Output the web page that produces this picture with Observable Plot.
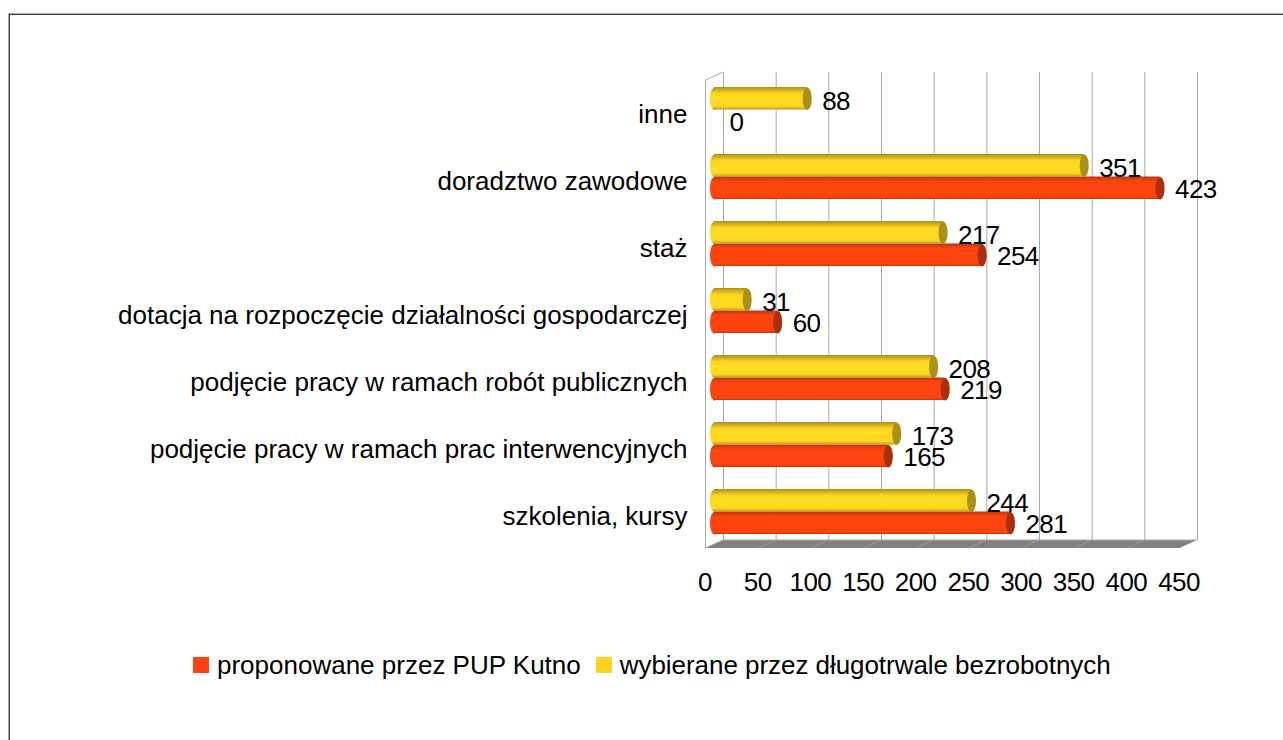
<!DOCTYPE html>
<html>
<head>
<meta charset="utf-8">
<script src="https://cdn.jsdelivr.net/npm/d3@7"></script>
<script src="https://cdn.jsdelivr.net/npm/@observablehq/plot@0.6"></script>
<style>
html,body{margin:0;padding:0;background:#fff;overflow:hidden}
#page{position:relative;width:1283px;height:740px;overflow:hidden}
#frame{position:absolute;left:9px;top:14px;width:1400px;height:900px;border:1px solid #444;box-sizing:border-box;box-shadow:-1px -1px 0 #a8a8a8}
#chart{position:absolute;left:0;top:0}
#legend{position:absolute;left:193px;top:647px;display:flex;align-items:center;font:26px "Liberation Sans",sans-serif;color:#000;white-space:nowrap;height:36px}
#legend i{display:inline-block;width:16px;height:16px;margin-right:8px}
#legend span{margin-right:15px}
#legend span:last-child{letter-spacing:-0.05px}
svg text{letter-spacing:0}
svg .num text, svg text.num{letter-spacing:-0.6px}
</style>
</head>
<body>
<div id="page"><div id="frame"></div><div id="chart"></div><div id="legend"></div></div>
<script>
const categories = ["inne","doradztwo zawodowe","staż","dotacja na rozpoczęcie działalności gospodarczej","podjęcie pracy w ramach robót publicznych","podjęcie pracy w ramach prac interwencyjnych","szkolenia, kursy"];
const proponowane = [0,423,254,60,219,165,281];
const wybierane = [88,351,217,31,208,173,244];
const seriesNames = ["proponowane przez PUP Kutno","wybierane przez długotrwale bezrobotnych"];
const seriesColors = ["#ff420e","#ffd320"];
const capColors = ["#a8300b","#ab9015"];
const xTicks = [0,50,100,150,200,250,300,350,400,450];

const depthX = 17.5, depthY = 8, barShift = -9, barH = 22.5;
const redRows = categories.map((c,i)=>({c,v:proponowane[i]}));
const yelRows = categories.map((c,i)=>({c,v:wybierane[i]}));

const ellipse = {draw(ctx,size){
  const r = Math.sqrt(size/Math.PI), rx = r*0.4, k = 0.5523;
  ctx.moveTo(-rx,0);
  ctx.bezierCurveTo(-rx,-r*k,-rx*k,-r,0,-r);
  ctx.bezierCurveTo(rx*k,-r,rx,-r*k,rx,0);
  ctx.bezierCurveTo(rx,r*k,rx*k,r,0,r);
  ctx.bezierCurveTo(-rx*k,r,-rx,r*k,-rx,0);
  ctx.closePath();
}};

function defs(){
  const ns="http://www.w3.org/2000/svg";
  const d=document.createElementNS(ns,"defs");
  const mk=(id,stops)=>{
    const g=document.createElementNS(ns,"linearGradient");
    g.setAttribute("id",id);g.setAttribute("x1","0");g.setAttribute("x2","0");g.setAttribute("y1","0");g.setAttribute("y2","1");
    stops.forEach(([o,c])=>{const s=document.createElementNS(ns,"stop");s.setAttribute("offset",o);s.setAttribute("stop-color",c);g.appendChild(s);});
    d.appendChild(g);
  };
  mk("gy",[[0,"#a8901f"],[0.1,"#c9a81d"],[0.28,"#fbd520"],[0.5,"#ffdc22"],[0.85,"#fdd620"],[0.96,"#cfae1c"],[1,"#ab9320"]]);
  mk("gr",[[0,"#b5330c"],[0.08,"#d83a0d"],[0.22,"#ff450f"],[0.88,"#ff430e"],[0.97,"#e03b0c"],[1,"#b0320b"]]);
  return d;
}

// Floor and side wall of the 3D box, positioned from the chart's own scales
function box(index,{x,y},c,dim){
  const g=d3.create("svg:g");
  const top=dim.marginTop,bot=dim.height-dim.marginBottom;
  const x0=x(0),x1=x(450);
  g.append("path").attr("d",`M${x0},${bot}L${x1},${bot}L${x1-depthX},${bot+depthY}L${x0-depthX},${bot+depthY}Z`).attr("fill","#808080");
  xTicks.slice(1,-1).forEach(t=>g.append("path").attr("d",`M${x(t)},${bot}L${x(t)-depthX},${bot+depthY}`).attr("stroke","#9a9a9a").attr("fill","none"));
  g.append("path").attr("d",`M${x0},${top}L${x0-depthX},${top+depthY}L${x0-depthX},${bot+depthY}L${x0},${bot}`).attr("stroke","#a8a8a8").attr("fill","none");
  g.append("path").attr("d",`M${x0},${bot}L${x1},${bot}`).attr("stroke","#a8a8a8");
  return g.node();
}

function cyl(rows,fill,cap,dy){
  const shown=rows.filter(d=>d.v>0);
  return [
    Plot.dot(shown,{x:()=>0,y:"c",dx:barShift,dy,r:barH/2,symbol:ellipse,fill,stroke:"none"}),
    Plot.barX(shown,{x1:()=>0,x2:"v",y:"c",dx:barShift,dy,insetTop:22.25,insetBottom:22.25,fill,stroke:"none"}),
    Plot.dot(shown,{x:"v",y:"c",dx:barShift,dy,r:barH/2,symbol:ellipse,fill:cap,stroke:"none"})
  ];
}

const chart = Plot.plot({
  width:1283,height:640,
  marginLeft:723,marginRight:86,marginTop:72,marginBottom:100,
  style:{background:"transparent",fontFamily:"'Liberation Sans',sans-serif",color:"#000",overflow:"visible"},
  x:{domain:[0,450],range:[723,1197]},
  y:{domain:categories,range:[75.5,544.5],padding:0},
  marks:[
    defs,
    Plot.ruleX(xTicks,{stroke:"#a8a8a8",strokeWidth:1,strokeOpacity:1}),
    box,
    ...cyl(redRows,"url(#gr)",capColors[0],11.25),
    ...cyl(yelRows,"url(#gy)",capColors[1],-11.25),
    Plot.text(yelRows,{x:"v",y:"c",text:d=>String(d.v),textAnchor:"start",dx:6,dy:-8,fontSize:26,fill:"#000",className:"num"}),
    Plot.text(redRows,{x:"v",y:"c",text:d=>String(d.v),textAnchor:"start",dx:6,dy:13,fontSize:26,fill:"#000",className:"num"}),
    Plot.axisY({tickSize:0,tickPadding:36,fontSize:26,dy:5,label:null,anchor:"left"}),
    Plot.axisX(xTicks,{tickSize:0,tickPadding:32,fontSize:26,dx:-18.5,label:null,anchor:"bottom",className:"num"})
  ]
});
document.getElementById("chart").appendChild(chart);

const lg=document.getElementById("legend");
seriesNames.forEach((n,i)=>{
  const sw=document.createElement("i");sw.style.background=seriesColors[i];
  const t=document.createElement("span");t.textContent=n;
  lg.append(sw,t);
});
</script>
</body>
</html>
